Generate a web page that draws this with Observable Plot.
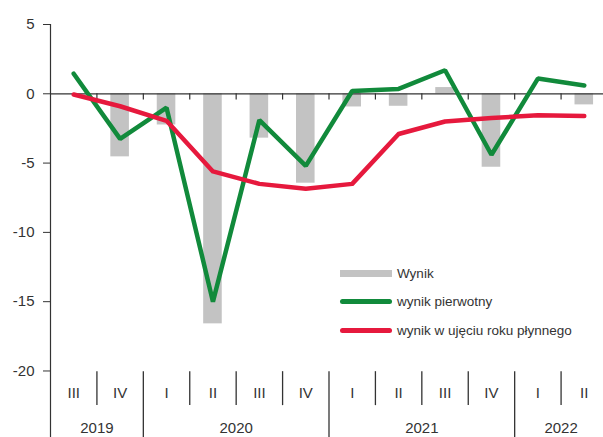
<!DOCTYPE html>
<html>
<head>
<meta charset="utf-8">
<script src="https://cdn.jsdelivr.net/npm/d3@7"></script>
<script src="https://cdn.jsdelivr.net/npm/@observablehq/plot@0.6"></script>
<style>
  html, body { margin: 0; padding: 0; background: #fff; }
  #wrap { position: relative; width: 603px; height: 437px; overflow: hidden; }
  .legend { position: absolute; left: 340px; top: 259px; font-family: "Liberation Sans Narrow", "Arial Narrow", "Liberation Sans", Arial, sans-serif; font-size: 13.5px; color: #333; }
  .legend .row { display: flex; align-items: center; height: 28.5px; }
  .legend .sw { width: 52px; margin-right: 5px; }
  .legend .bar { height: 7px; background: #c3c3c3; }
  .legend .ln { height: 5px; border-radius: 3px; }
</style>
</head>
<body>
<div id="wrap"></div>
<script>
// ---- data ----
const quarters = ["III", "IV", "I", "II", "III", "IV", "I", "II", "III", "IV", "I", "II"];
const years    = ["2019", "2019", "2020", "2020", "2020", "2020", "2021", "2021", "2021", "2021", "2022", "2022"];
const wynik          = [0, -4.55, -2.25, -16.6, -3.2, -6.45, -0.95, -0.9, 0.45, -5.3, 0, -0.8];
const wynikPierwotny = [1.45, -3.25, -1.0, -15.0, -1.9, -5.2, 0.2, 0.35, 1.7, -4.4, 1.1, 0.6];
const wynikPlynny    = [-0.05, -0.9, -1.95, -5.6, -6.5, -6.85, -6.5, -2.9, -2.0, -1.75, -1.55, -1.6];
const yTicks = [5, 0, -5, -10, -15, -20];
const seriesNames = ["Wynik", "wynik pierwotny", "wynik w ujęciu roku płynnego"];
const colors = {bar: "#c3c3c3", green: "#118a3b", red: "#e6193d"};

// ---- derived tables ----
const rows = quarters.map((q, i) => ({i, q, year: years[i], wynik: wynik[i], pierw: wynikPierwotny[i], plyn: wynikPlynny[i]}));
const n = rows.length;
const yearGroups = [];
rows.forEach(r => {
  const last = yearGroups[yearGroups.length - 1];
  if (last && last.year === r.year) last.end = r.i + 1;
  else yearGroups.push({year: r.year, start: r.i, end: r.i + 1});
});
const quarterBounds = d3.range(1, n);
const yearBounds = yearGroups.slice(1).map(g => g.start);

const yMin = -20, yBottom = -24.8;
const qSepBottom = -22.5;
const textColor = "#333";

const chart = Plot.plot({
  width: 603,
  height: 437,
  marginLeft: 50,
  marginRight: -4,
  marginTop: 24,
  marginBottom: 0,
  style: {fontFamily: "'Liberation Sans', Arial, sans-serif", fontSize: "15px", color: textColor, background: "#fff"},
  x: {domain: [0, n], axis: null},
  y: {domain: [yBottom, 5], axis: null},
  marks: [
    // bars
    Plot.rectY(rows.filter(d => d.wynik !== 0), {x1: d => d.i + 0.5 - 0.2, x2: d => d.i + 0.5 + 0.2, y1: 0, y2: "wynik", fill: colors.bar}),
    // y axis line
    Plot.ruleX([0], {y1: yBottom, y2: 5, stroke: "#333", strokeWidth: 1.2}),
    // y ticks and labels
    Plot.axisY(yTicks, {anchor: "left", tickSize: 7, tickPadding: 9, tickFormat: d => String(d), label: null, stroke: "#333", fontSize: 15}),
    // zero line
    Plot.ruleY([0], {x1: 0, x2: n, stroke: "#333", strokeWidth: 1.2}),
    // little ticks under zero line
    Plot.ruleX(quarterBounds, {x: d => d, y1: 0, y2: -0.45, stroke: "#333", strokeWidth: 1.2}),
    // category separators
    Plot.ruleX(quarterBounds.filter(b => !yearBounds.includes(b)), {x: d => d, y1: yMin - 0.05, y2: qSepBottom, stroke: "#333", strokeWidth: 1.3}),
    Plot.ruleX(yearBounds, {x: d => d, y1: yMin - 0.05, y2: yBottom, stroke: "#333", strokeWidth: 1.3}),
    // quarter labels
    Plot.text(rows, {x: d => d.i + 0.5, y: yMin, dy: 22, text: "q", fill: textColor, fontSize: 15}),
    // year labels
    Plot.text(yearGroups, {x: d => (d.start + d.end) / 2, y: yMin, dy: 57, text: "year", fill: textColor, fontSize: 15}),
    // lines
    Plot.line(rows, {x: d => d.i + 0.5, y: "pierw", stroke: colors.green, strokeWidth: 4.5, strokeLinejoin: "miter", strokeLinecap: "round"}),
    Plot.line(rows, {x: d => d.i + 0.5, y: "plyn", stroke: colors.red, strokeWidth: 4.5, strokeLinejoin: "round", strokeLinecap: "round"})
  ]
});
const wrap = document.getElementById("wrap");
wrap.appendChild(chart);

// legend
const legend = document.createElement("div");
legend.className = "legend";
const swatches = [
  `<div class="sw bar"></div>`,
  `<div class="sw ln" style="background:${colors.green}"></div>`,
  `<div class="sw ln" style="background:${colors.red}"></div>`
];
legend.innerHTML = seriesNames.map((name, k) => `<div class="row">${swatches[k]}<span>${name}</span></div>`).join("");
wrap.appendChild(legend);
</script>
</body>
</html>
